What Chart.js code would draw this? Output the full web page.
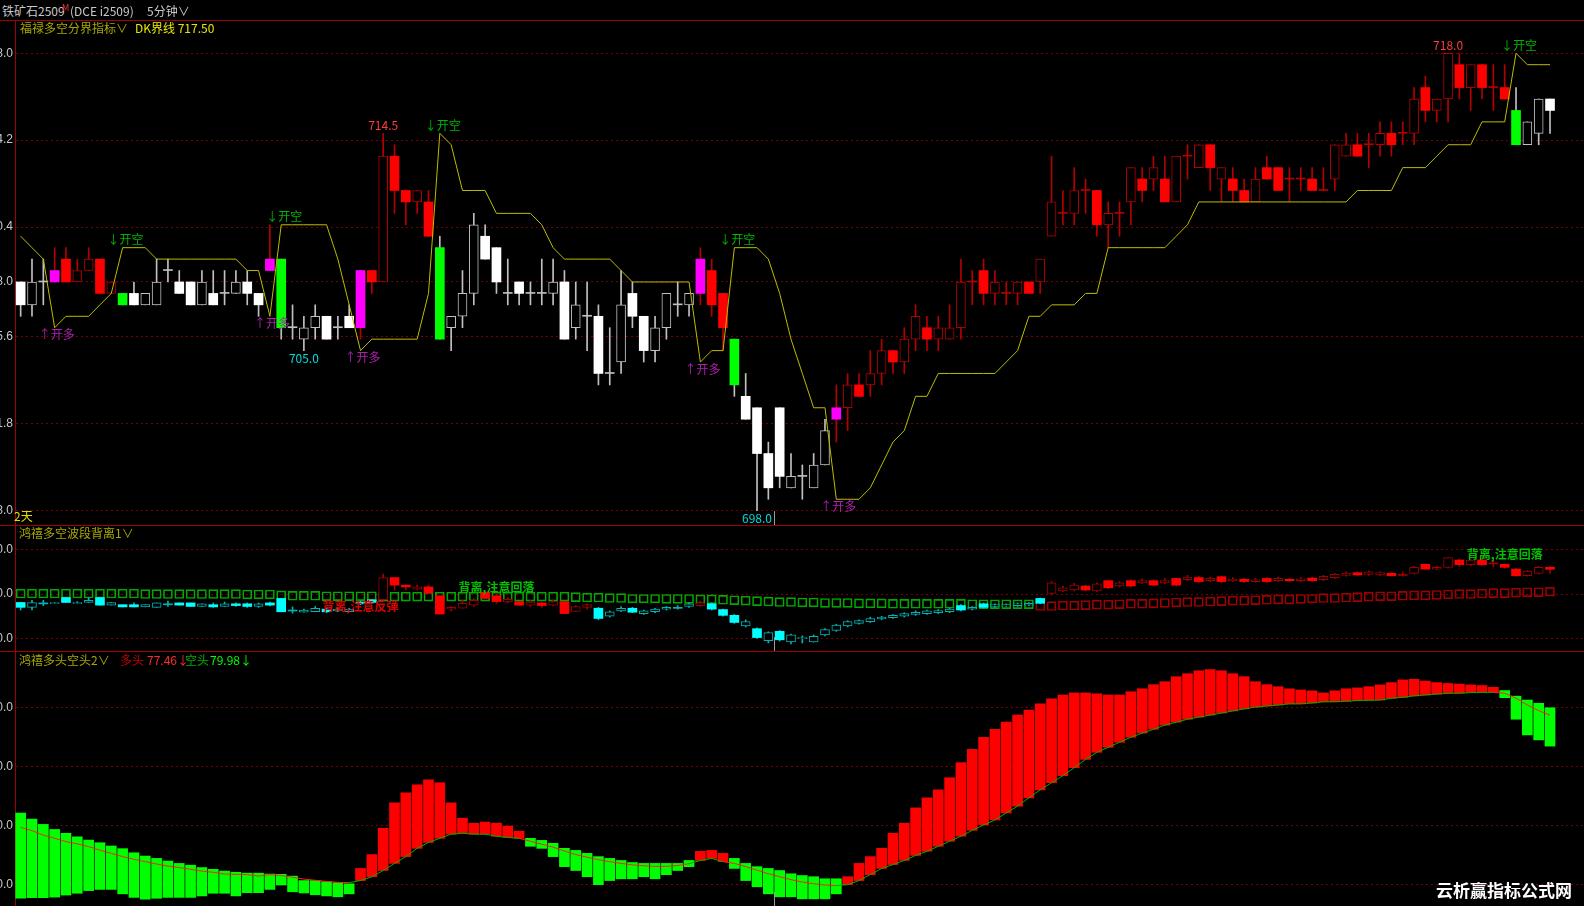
<!DOCTYPE html>
<html lang="zh-CN">
<head>
<meta charset="utf-8">
<title>铁矿石2509 5分钟</title>
<script src="https://cdn.jsdelivr.net/npm/chart.js@4.4.1/dist/chart.umd.min.js"></script>
<style>
	html, body { margin: 0; padding: 0; background: #000; }
	body { width: 1584px; height: 906px; position: relative; overflow: hidden;
		font-family: "Noto Sans CJK SC", "Noto Sans", sans-serif; font-size: 12px; }
	.panel { position: absolute; left: 0; width: 1584px; border-top: 1px solid #a00000; box-sizing: border-box; }
	.panel canvas { display: block; }
	.txt { position: absolute; white-space: nowrap; line-height: 14px; height: 14px; }
</style>
</head>
<body>
<div class="panel" style="top:20px;height:505px"><canvas id="kline" width="1584" height="504"></canvas></div>
<div class="panel" style="top:525px;height:126px"><canvas id="wave" width="1584" height="125"></canvas></div>
<div class="panel" style="top:651px;height:255px"><canvas id="power" width="1584" height="254"></canvas></div>

<!-- header + panel titles -->
<div class="txt" style="left:2px;top:4px;color:#c8c8c8">铁矿石2509</div>
<div class="txt" style="left:62px;top:1px;color:#ff3030;font-size:9px">M</div>
<div class="txt" style="left:70px;top:4px;color:#c8c8c8">(DCE i2509)</div>
<div class="txt" style="left:147px;top:4px;color:#c8c8c8">5分钟∨</div>

<div class="txt" style="left:20px;top:21px;color:#a8a800">福禄多空分界指标∨</div>
<div class="txt" style="left:135px;top:21px;color:#e6e600">DK界线 717.50</div>
<div class="txt" style="left:14px;top:509px;color:#e0e000">2天</div>

<div class="txt" style="left:19px;top:526px;color:#a8a800">鸿禧多空波段背离1∨</div>

<div class="txt" style="left:19px;top:653px;color:#a8a800">鸿禧多头空头2∨</div>
<div class="txt" style="left:120px;top:653px;color:#c00000">多头</div>
<div class="txt" style="left:147px;top:653px;color:#ff2a2a">77.46↓</div>
<div class="txt" style="left:185px;top:653px;color:#00b000">空头</div>
<div class="txt" style="left:210px;top:653px;color:#00ff00">79.98↓</div>

<div class="txt" style="left:1436px;top:880px;color:#ffffff;font-size:17px;font-weight:bold;line-height:19px;height:19px">云析赢指标公式网</div>

<script>
(function () {
	'use strict';

	// ---- main panel: 5-minute candles (136 bars) ----
	const p1Open = [
		708, 707, 708, 708, 709, 708, 708.5, 709, 707.5, 707.5,
		707.5, 707, 707, 708.5, 708, 708, 707, 707.5, 707.5, 707.5,
		708, 707.5, 708.5, 709, 706, 705.5, 706, 706.5, 706, 706.5,
		706, 708.5, 708, 713.5, 712, 711.5, 711.5, 709.5, 706, 706.5,
		707.5, 710, 709.5, 707.5, 708, 707.5, 707.5, 707.5, 708, 706,
		706.5, 706.5, 704, 704.5, 707.5, 706.5, 705, 706, 707, 707,
		707.5, 708.5, 707.5, 705.5, 703, 702.5, 700.5, 702.5, 699, 699.5,
		699, 700, 702, 702.5, 703.5, 703.5, 704, 705, 704.5, 705.5,
		706, 705.5, 705.5, 706, 708, 708.5, 707.5, 707.5, 707.5, 708,
		708, 710, 711, 711, 712, 712, 710.5, 711, 711.5, 712.5,
		712.5, 712.5, 711.5, 713.5, 713, 714, 712.5, 712.5, 712, 711.5,
		713, 713, 712.5, 712.5, 712.5, 712, 712.5, 713.5, 714, 714,
		714, 714.5, 714.5, 714.5, 716.5, 715.5, 716, 717.5, 716.5, 717.5,
		716.5, 716.5, 715.5, 714, 714.5, 716
	];
	const p1High = [
		708, 709, 709, 709.5, 709.5, 709, 709.5, 709, 708, 707.5,
		708, 707.5, 709, 709, 708.5, 708, 708.5, 708.5, 708.5, 708.5,
		708.5, 707.5, 710.5, 709, 707, 706.5, 707, 706.5, 706.5, 707,
		708.5, 708.5, 714.5, 714, 712, 712, 712, 710, 706.5, 708.5,
		711, 710.5, 709.5, 709, 708, 708, 709, 709, 708.5, 708,
		708, 707, 706, 708.5, 708, 706.5, 706.5, 707.5, 708, 707.5,
		709.5, 709, 707.5, 705.5, 704, 702.5, 701, 702.5, 700.5, 700,
		700.5, 702, 703.5, 704, 704, 705, 705.5, 705, 706, 707,
		706.5, 706.5, 707, 709, 708.5, 709, 708.5, 708, 708, 708,
		709, 713.5, 712, 713, 712.5, 712, 711.5, 711.5, 713, 713,
		713.5, 713.5, 713.5, 714, 714, 714, 713, 713, 712.5, 713,
		713.5, 713, 713, 713, 713, 713, 714, 714.5, 714.5, 714.5,
		715, 715, 715, 716.5, 717, 716, 718, 718, 717.5, 717.5,
		717.5, 717.5, 716.5, 715, 716, 716
	];
	const p1Low = [
		706.5, 706.5, 707, 708, 708, 708, 708.5, 707.5, 707.5, 707,
		707, 707, 707, 708, 707.5, 707, 707, 707, 707, 707.5,
		707, 706.5, 708.5, 705.5, 705.5, 705, 705.5, 705.5, 705.5, 706,
		705.5, 707.5, 708, 711, 710.5, 711, 710, 705.5, 705, 706,
		707, 709, 707.5, 707, 707, 707, 707, 707, 705.5, 705.5,
		705, 703.5, 703.5, 704, 706, 704.5, 704.5, 705.5, 706.5, 706.5,
		707, 706.5, 705, 703, 702, 698, 698.5, 699, 699, 698.5,
		699, 700, 701, 701.5, 703, 703, 703.5, 704, 704, 705,
		705, 705, 705.5, 705.5, 707, 707, 707, 707, 707, 707.5,
		707.5, 710, 710.5, 710.5, 711, 710, 709.5, 710, 710.5, 711.5,
		712, 711.5, 711.5, 712.5, 713, 712, 711.5, 711.5, 711.5, 711.5,
		712.5, 712, 711.5, 712, 712, 712, 712, 713.5, 713.5, 713,
		713.5, 713.5, 714, 714, 715, 715, 715, 716, 715.5, 716,
		715.5, 716, 714, 714, 714, 714.5
	];
	const p1Close = [
		707, 708, 708, 708.5, 708, 708.5, 709, 707.5, 708, 707,
		707, 707.5, 708, 708.5, 707.5, 707, 708, 707, 707.5, 708,
		707.5, 707, 709, 706, 706, 706, 706.5, 705.5, 706, 706,
		708.5, 708, 713.5, 712, 711.5, 712, 710, 705.5, 706.5, 707.5,
		710.5, 709, 708, 707.5, 707.5, 707.5, 707.5, 708, 705.5, 707,
		706.5, 704, 704, 707, 706.5, 705, 706, 707.5, 707, 707.5,
		709, 707, 706, 703.5, 702, 700.5, 699, 699.5, 699.5, 699.5,
		700, 701.5, 702.5, 703.5, 703, 704, 705, 704.5, 705.5, 706.5,
		705.5, 706, 706, 708, 708, 707.5, 708, 707.5, 708, 707.5,
		709, 711.5, 711, 712, 712, 710.5, 711, 711, 713, 712,
		713, 711.5, 713.5, 713.5, 714, 713, 713, 712, 711.5, 712.5,
		712.5, 712, 712.5, 712.5, 712, 712, 714, 714, 713.5, 714,
		714.5, 714, 714.5, 716, 715.5, 716, 718, 716.5, 717.5, 716.5,
		716.5, 716, 714, 715, 716, 715.5
	];
	// w = white zone, r = red zone, m = magenta long bar, g = green short bar
	const p1Kind = 'wwwm' + 'rrrrrg' + 'wwwwwwwwwwww' + 'mg' + 'wwwwww' + 'm' + 'rrrrrr' + 'g' +
		'wwwwwwwwwwwwwwwwwwwwww' + 'm' + 'rr' + 'g' + 'wwwwwwww' + 'm' +
		'rrrrrrrrrr' + 'rrrrrrrrrr' + 'rrrrrrrrrr' + 'rrrrrrrrrr' + 'rrrrrrrrrr' + 'rrrrrrrrr' +
		'g' + 'www';
	const dkLine = [
		710, 709.5, 709, 706, 706.5, 706.5, 706.5, 707, 707.5, 709.5,
		709.5, 709.5, 709, 709, 709, 709, 709, 709, 709, 709,
		708.5, 708.5, 706.5, 710.5, 710.5, 710.5, 710.5, 710.5, 709, 707,
		705, 705.5, 705.5, 705.5, 705.5, 705.5, 707.5, 714.5, 714, 712,
		712, 712, 711, 711, 711, 711, 710.5, 709.5, 709, 709,
		709, 709, 709, 708.5, 708, 708, 708, 708, 708, 708,
		704.5, 705, 705, 709.5, 709.5, 709.5, 709, 707.5, 705.5, 704,
		702.5, 702.5, 698.5, 698.5, 698.5, 699, 700, 701, 701.5, 703,
		703, 704, 704, 704, 704, 704, 704, 704.5, 705, 706.5,
		706.5, 707, 707, 707, 707.5, 707.5, 709.5, 709.5, 709.5, 709.5,
		709.5, 709.5, 710, 710.5, 711.5, 711.5, 711.5, 711.5, 711.5, 711.5,
		711.5, 711.5, 711.5, 711.5, 711.5, 711.5, 711.5, 711.5, 712, 712,
		712, 712, 713, 713, 713, 713.5, 714, 714, 714, 715,
		715, 715, 718, 717.5, 717.5, 717.5
	];
	const longSignals = [3, 22, 30, 60, 72];     // ↑开多
	const shortSignals = [9, 23, 37, 63, 132];   // ↓开空
	const highMarks = [32, 126];
	const lowMarks = [25, 65];
	const p1Ticks = [718.0, 714.2, 710.4, 708.0, 705.6, 701.8, 698.0];
	const daySplit = 66.5;

	// ---- panel 2: wave divergence ----
	const p2Box = [
		1, 1, 1, 1, 1, 1, 1, 1, 1, 1,
		1, 0, 0, 0, 0, 0, 0, 0, 0, 0,
		-1, -1, -1, -3, -4, -4, -4, -5, -5, -5,
		-5, -5, -6, -6, -6, -6, -6, -6, -6, -6,
		-6, -6, -6, -6, -6, -6, -6, -6, -6, -7,
		-8, -8, -9, -9, -10, -10, -10, -11, -11, -11,
		-12, -12, -13, -14, -15, -16, -17, -18, -18, -19,
		-19, -20, -20, -20, -21, -21, -21, -22, -22, -22,
		-22, -22, -22, -22, -23, -23, -23, -23, -23, -23,
		-27, -27, -26, -26, -25, -24, -24, -23, -22, -22,
		-21, -20, -19, -18, -18, -17, -16, -15, -15, -14,
		-13, -12, -12, -11, -10, -9, -9, -8, -7, -6,
		-5, -5, -4, -3, -3, -2, -1, 0, 0, 1,
		2, 2, 3, 4, 4, 5
	];
	const p2Open = [
		-19, -30, -20, -22, -8, -22, -19, -8, -25, -24,
		-24, -29, -30, -22, -20, -20, -28, -24, -28, -22,
		-22, -28, -20, -10, -36, -41, -40, -34, -38, -40,
		-18, -13, -13, 37, 20, 11, 16, -4, -34, -32,
		-25, 4, -4, -18, -17, -25, -20, -25, -17, -39,
		-30, -32, -50, -38, -32, -44, -40, -34, -30, -28,
		-26, -22, -35, -48, -72, -78, -105, -84, -108, -100,
		-108, -92, -82, -72, -66, -62, -56, -53, -50, -46,
		-44, -42, -40, -26, -34, -22, -28, -27, -26, -25,
		-10, 0, 7, 9, 18, 7, 30, 18, 30, 25,
		30, 25, 35, 32, 37, 30, 39, 30, 33, 28,
		35, 30, 33, 30, 36, 32, 37, 42, 48, 44,
		43, 46.5, 44, 46.5, 66.75, 56, 60, 76.5, 66, 76.5,
		70, 66.75, 56, 41, 46.5, 60
	];
	const p2Close = [
		-30, -19, -20, -19, -19, -19, -14, -25, -19, -29,
		-29, -24, -20, -22, -25, -28, -22, -29, -22, -26,
		-28, -22, -25, -40, -36, -36, -32, -40, -34, -34,
		-22, -19, 37, 20, 16, 16, 2, -45, -30, -21,
		-14, -10, -17, -12, -25, -18, -26, -17, -44, -28,
		-24, -55, -40, -32, -41, -38, -34, -30, -30, -22,
		-20, -34, -48, -64, -62, -98, -87, -103, -92, -98,
		-95, -80, -70, -62, -60, -55, -52, -48, -44, -41,
		-38, -37, -34, -36, -30, -30, -24, -24, -22, -21,
		-21, 25, 14, 20, 9, 23, 14, 25, 18, 30,
		20, 30, 20, 38, 28, 35, 28, 33, 28, 32,
		28, 35, 30, 34, 30, 40, 44, 47, 43, 50,
		48, 41, 44, 60, 56, 60, 81.75, 66, 76.5, 66,
		70, 60, 41, 51.75, 60, 55.5
	];
	const p2High = [
		-19, -14, -14, -19, -8, -17, -8, -8, -19, -24,
		-20, -24, -20, -16, -20, -20, -22, -20, -18, -20,
		-20, -20, -18, -10, -29, -34, -28, -30, -30, -32,
		-16, -13, 45, 37, 20, 20, 20, -4, -28, -14,
		-10, 4, 2, -8, -17, -14, -18, -14, -17, -26,
		-22, -30, -38, -28, -30, -36, -32, -28, -26, -20,
		-16, -20, -34, -46, -58, -76, -85, -82, -90, -94,
		-92, -78, -68, -60, -58, -52, -50, -46, -42, -38,
		-36, -35, -32, -24, -28, -20, -22, -22, -20, -19,
		-9, 28, 18, 24, 20, 25, 30, 28, 32, 34,
		32, 35, 36, 42, 40, 38, 40, 37, 35, 35,
		37, 38, 36, 37, 38, 42, 46, 50, 50, 52,
		50, 48, 50, 62, 68, 62, 82, 78, 78, 80,
		76, 68, 58, 53, 62, 62
	];
	const p2Low = [
		-36, -36, -26, -22, -19, -22, -19, -25, -25, -29,
		-29, -29, -30, -28, -25, -28, -28, -30, -28, -28,
		-30, -30, -27, -40, -43, -41, -40, -42, -40, -40,
		-24, -20, -13, 9, 9, 9, 2, -45, -38, -32,
		-28, -10, -21, -20, -25, -28, -30, -27, -44, -40,
		-34, -58, -52, -40, -42, -46, -42, -36, -34, -30,
		-28, -36, -50, -66, -74, -100, -110, -106, -112, -110,
		-108, -94, -84, -74, -68, -64, -58, -55, -52, -48,
		-46, -44, -42, -38, -36, -32, -30, -28, -28, -26,
		-22, -2, 5, 7, 7, 5, 12, 16, 16, 23,
		18, 23, 18, 30, 26, 28, 25, 28, 26, 26,
		26, 28, 28, 28, 28, 30, 35, 40, 41, 42,
		41, 40, 40, 45, 55, 55, 58, 62, 64, 64,
		61, 58, 40, 40, 45, 46.5
	];
	// c = cyan (bearish wave), r = red (bullish wave)
	const p2Kind = 'cccccccccc' + 'cccccccccc' + 'cccccccccc' + 'cc' +
		'rrrrrrrrrr' + 'rrrrrrrrr' + 'ccccccccc' + 'r' +
		'cccccccccc' + 'cccccccccc' + 'cccccccccc' +
		'rrrrrrrrrr' + 'rrrrrrrrrr' + 'rrrrrrrrrr' + 'rrrrrrrrrr' + 'rrrrr';
	const boxSplit = 90;      // first bar with red boxes
	const BOX_HALF = 10;
	const p2Notes = [
		[30, -29, '背离,注意反弹', '#e00000'],
		[42, 15.7, '背离,注意回落', '#00c000'],
		[131, 90, '背离,注意回落', '#00c000']
	];
	const p2Ticks = [100, 0, -100];

	// ---- panel 3: bull / bear strength ----
	const p3Hi = [
		44.3, 42.3, 40.5, 38.8, 37.5, 36.3, 35.2, 34.3, 33.2, 32.3,
		30.9, 29.8, 29.0, 28.1, 27.3, 26.7, 25.9, 25.3, 24.7, 24.3,
		24.0, 24.0, 23.7, 23.6, 23.0, 21.5, 21.5, 21.1, 20.8, 20.4,
		25.6, 30.3, 39.2, 47.8, 51.2, 53.9, 55.6, 54.6, 47.8, 42.6,
		40.9, 41.3, 40.9, 39.9, 38.2, 35.8, 35.1, 34.1, 32.4, 31.7,
		30.7, 29.6, 29.0, 28.3, 27.6, 27.3, 27.3, 27.3, 27.3, 28.3,
		31.4, 31.7, 30.7, 29.0, 27.3, 26.2, 25.6, 24.9, 23.8, 23.2,
		22.8, 22.1, 22.1, 22.8, 27.3, 29.6, 32.4, 37.5, 40.9, 46.1,
		49.5, 52.2, 56.3, 61.4, 65.9, 70.0, 72.7, 75.1, 77.5, 79.2,
		81.3, 83.0, 84.3, 85.0, 85.0, 84.7, 84.3, 84.3, 85.4, 86.4,
		87.8, 88.8, 90.5, 91.5, 92.5, 92.9, 92.5, 91.5, 90.5, 88.8,
		87.8, 87.1, 86.4, 86.0, 85.7, 85.0, 85.7, 86.4, 86.7, 87.1,
		87.7, 88.5, 89.4, 89.6, 89.0, 88.5, 88.2, 88.0, 87.7, 87.5,
		86.9, 85.8, 83.9, 82.6, 81.5, 79.98
	];
	const p3Lo = [
		15.5, 15.7, 15.7, 15.9, 16.6, 17.2, 18.1, 18.5, 18.5, 17.0,
		15.8, 15.2, 15.5, 15.8, 15.8, 15.8, 16.3, 17.2, 17.2, 16.3,
		17.4, 17.4, 18.5, 20.0, 17.7, 17.3, 16.7, 16.3, 16.0, 17.0,
		21.5, 22.8, 24.9, 27.3, 29.6, 32.4, 34.4, 35.8, 37.2, 37.5,
		37.2, 37.2, 36.5, 36.1, 35.8, 33.1, 32.4, 29.6, 26.2, 24.9,
		22.8, 20.1, 21.5, 22.1, 22.1, 22.8, 22.1, 23.5, 24.9, 26.2,
		28.3, 29.0, 27.9, 25.6, 21.5, 19.4, 17.0, 16.0, 16.0, 15.3,
		15.3, 15.3, 17.0, 20.1, 21.5, 23.5, 25.6, 26.9, 28.3, 30.0,
		31.4, 33.1, 34.8, 36.5, 38.5, 40.3, 42.0, 44.4, 46.7, 49.5,
		52.2, 54.6, 57.0, 59.7, 62.5, 64.9, 66.6, 68.3, 70.0, 71.4,
		72.7, 74.1, 75.1, 76.1, 76.8, 77.5, 78.2, 78.9, 79.6, 80.2,
		80.6, 80.9, 81.3, 81.3, 81.6, 82.0, 82.0, 82.2, 82.4, 82.5,
		82.6, 83.2, 83.5, 84.0, 84.3, 84.6, 84.9, 84.9, 85.1, 85.2,
		85.2, 83.4, 76.1, 70.8, 69.1, 67.0
	];
	const p3Line = [
		39.5, 38.4, 36.9, 35.8, 34.7, 33.9, 33.0, 31.8, 30.7, 29.6,
		28.7, 27.9, 27.1, 26.4, 25.9, 25.3, 24.7, 24.3, 23.7, 23.6,
		23.5, 23.0, 23.5, 23.2, 22.6, 22.0, 21.6, 21.2, 20.9, 20.8,
		21.5, 22.8, 24.9, 27.3, 29.6, 32.4, 34.4, 35.8, 37.2, 37.5,
		37.2, 37.2, 36.5, 36.1, 35.8, 34.8, 33.8, 32.8, 31.5, 30.3,
		29.4, 28.6, 27.9, 27.3, 26.8, 26.5, 26.3, 26.3, 26.6, 27.2,
		28.3, 29.0, 27.9, 27.3, 26.2, 25.0, 23.8, 22.8, 21.8, 21.0,
		20.4, 20.0, 19.8, 20.1, 21.5, 23.5, 25.6, 26.9, 28.3, 30.0,
		31.4, 33.1, 34.8, 36.5, 38.5, 40.3, 42.0, 44.4, 46.7, 49.5,
		52.2, 54.6, 57.0, 59.7, 62.5, 64.9, 66.6, 68.3, 70.0, 71.4,
		72.7, 74.1, 75.1, 76.1, 76.8, 77.5, 78.2, 78.9, 79.6, 80.2,
		80.6, 80.9, 81.3, 81.3, 81.6, 82.0, 82.0, 82.2, 82.4, 82.5,
		82.6, 83.2, 83.5, 84.0, 84.3, 84.6, 84.9, 84.9, 85.1, 85.2,
		85.2, 84.9, 83.2, 80.9, 79.0, 77.46
	];
	const p3Kind = 'gggggggggg' + 'gggggggggg' + 'gggggggggg' +
		'rrrrrrrrrr' + 'rrrrr' + 'gggggggggg' + 'ggggg' + 'rrr' + 'gggggggggg' +
		'rrrrrrrrrr' + 'rrrrrrrrrr' + 'rrrrrrrrrr' + 'rrrrrrrrrr' + 'rrrrrrrrrr' + 'rrrrrrrr' +
		'ggggg';
	const p3Ticks = [80, 60, 40, 20];

	const FONT = '"Noto Sans CJK SC", "Noto Sans", sans-serif';
	const X_MIN = -0.5, X_MAX = 138;

	function yAxis(min, max, ticks) {
		return {
			position: 'left',
			min: min,
			max: max,
			afterFit: s => {
				// fixed narrow axis; labels may run off the left edge like the original
				s.width = 15;
				s.paddingTop = 0;
				s.paddingBottom = 0;
				s.paddingLeft = 0;
				s.paddingRight = 0;
			},
			afterBuildTicks: s => { s.ticks = ticks.map(v => ({ value: v })); },
			grid: { color: '#7a0000', lineWidth: 1, drawTicks: false },
			border: { display: true, color: '#a00000', width: 1, dash: [2, 3] },
			ticks: {
				autoSkip: false,
				color: '#c8c8c8',
				padding: 2,
				font: { size: 12, family: '"Liberation Sans", sans-serif' },
				callback: v => Number(v).toFixed(1)
			}
		};
	}

	// wick + body bar datasets from OHLC arrays
	function candleSets(open, high, low, close, style, bodyWidth) {
		const wick = [], body = [], wickColor = [], bg = [], bd = [], bw = [];
		for (let i = 0; i < open.length; i++) {
			const s = style(i);
			wick.push({ x: i, y: [low[i], high[i]] });
			body.push({ x: i, y: [Math.min(open[i], close[i]), Math.max(open[i], close[i])] });
			wickColor.push(s.wick);
			if (open[i] === close[i]) {
				bg.push(s.wick); bd.push(s.wick); bw.push(0);
			} else if (close[i] > open[i] && s.hollow) {
				bg.push('#000000'); bd.push(s.line); bw.push(1);
			} else {
				bg.push(s.fill); bd.push(s.fill); bw.push(0);
			}
		}
		return [
			{ type: 'bar', data: wick, backgroundColor: wickColor, barThickness: 1, grouped: false, minBarLength: 1, order: 5 },
			{ type: 'bar', data: body, backgroundColor: bg, borderColor: bd, borderWidth: bw, borderSkipped: false,
				barThickness: bodyWidth, grouped: false, minBarLength: 1, order: 4 }
		];
	}

	const daySplitPlugin = {
		id: 'daySplit',
		afterDatasetsDraw(chart) {
			const { ctx, chartArea, scales: { x } } = chart;
			const px = Math.round(x.getPixelForValue(daySplit)) + 0.5;
			ctx.save();
			ctx.strokeStyle = '#9a9a9a';
			ctx.lineWidth = 1;
			ctx.beginPath();
			ctx.moveTo(px, chartArea.bottom - 14);
			ctx.lineTo(px, chartArea.bottom);
			ctx.stroke();
			ctx.restore();
		}
	};

	function createChart(id, datasets, yMin, yMax, ticks, plugins) {
		const canvas = document.getElementById(id);
		return new Chart(canvas, {
			type: 'bar',
			data: { datasets: datasets },
			options: {
				responsive: false,
				animation: false,
				events: [],
				layout: { padding: 0 },
				plugins: { legend: { display: false }, tooltip: { enabled: false } },
				scales: {
					x: { type: 'linear', display: false, offset: false, min: X_MIN, max: X_MAX },
					y: yAxis(yMin, yMax, ticks)
				}
			},
			plugins: [daySplitPlugin].concat(plugins || [])
		});
	}

	// ---------- panel 1 ----------
	const p1Style = i => {
		const k = p1Kind[i];
		if (k === 'r') return { fill: '#ff0000', line: '#b40000', wick: '#b40000', hollow: true };
		if (k === 'w') return { fill: '#ffffff', line: '#c0c0c0', wick: '#c0c0c0', hollow: true };
		if (k === 'm') return { fill: '#ff00ff', line: '#ff00ff', wick: '#b40000', hollow: false };
		return { fill: '#00ff00', line: '#00ff00', wick: '#c0c0c0', hollow: false };
	};

	const signalPlugin = {
		id: 'signals',
		afterDatasetsDraw(chart) {
			const { ctx, chartArea, scales: { x, y } } = chart;
			ctx.save();
			ctx.font = '12px ' + FONT;
			ctx.textBaseline = 'middle';
			ctx.textAlign = 'left';
			ctx.fillStyle = '#00b400';
			shortSignals.forEach(i => {
				ctx.fillText('↓开空', x.getPixelForValue(i) - 15, y.getPixelForValue(dkLine[i]) - 8);
			});
			ctx.fillStyle = '#b020b0';
			longSignals.forEach(i => {
				const py = Math.min(y.getPixelForValue(dkLine[i]) + 7, chartArea.bottom - 8);
				ctx.fillText('↑开多', x.getPixelForValue(i) - 16, py);
			});
			ctx.textAlign = 'center';
			ctx.fillStyle = '#ff3c3c';
			highMarks.forEach(i => {
				ctx.fillText(p1High[i].toFixed(1), x.getPixelForValue(i), y.getPixelForValue(p1High[i]) - 8);
			});
			ctx.fillStyle = '#00dcdc';
			lowMarks.forEach(i => {
				ctx.fillText(p1Low[i].toFixed(1), x.getPixelForValue(i), y.getPixelForValue(p1Low[i]) + 8);
			});
			ctx.restore();
		}
	};

	createChart('kline',
		candleSets(p1Open, p1High, p1Low, p1Close, p1Style, 9).concat([{
			type: 'line',
			data: dkLine.map((v, i) => ({ x: i, y: v })),
			borderColor: '#bcbc00',
			borderWidth: 1,
			pointRadius: 0,
			tension: 0,
			order: 1
		}]),
		697.375, 719.41, p1Ticks, [signalPlugin]);

	// ---------- panel 2 ----------
	const p2Style = i => p2Kind[i] === 'c'
		? { fill: '#00ffff', line: '#00b4b4', wick: '#00b4b4', hollow: true }
		: { fill: '#ff0000', line: '#a00000', wick: '#a00000', hollow: true };

	const notePlugin = {
		id: 'notes',
		afterDatasetsDraw(chart) {
			const { ctx, scales: { x, y } } = chart;
			ctx.save();
			ctx.font = 'bold 12px ' + FONT;
			ctx.textAlign = 'center';
			ctx.textBaseline = 'middle';
			p2Notes.forEach(([i, v, text, color]) => {
				ctx.fillStyle = color;
				ctx.fillText(text, x.getPixelForValue(i), y.getPixelForValue(v));
			});
			ctx.restore();
		}
	};

	createChart('wave',
		[{
			type: 'bar',
			data: p2Box.map((v, i) => ({ x: i, y: [v - BOX_HALF, v + BOX_HALF] })),
			backgroundColor: 'rgba(0,0,0,0)',
			borderColor: p2Box.map((v, i) => i < boxSplit ? '#00a800' : '#a00000'),
			borderWidth: 1,
			borderSkipped: false,
			barThickness: 9,
			grouped: false,
			order: 6
		}].concat(candleSets(p2Open, p2High, p2Low, p2Close, p2Style, 9)),
		-128.2, 153, p2Ticks, [notePlugin]);

	// ---------- panel 3 ----------
	createChart('power',
		[{
			type: 'bar',
			data: p3Lo.map((v, i) => ({ x: i, y: [v, p3Hi[i]] })),
			backgroundColor: p3Hi.map((v, i) => p3Kind[i] === 'r' ? '#ff0000' : '#00ff00'),
			borderWidth: 0,
			barThickness: 10,
			grouped: false,
			order: 3
		}, {
			type: 'line',
			data: p3Line.map((v, i) => ({ x: i, y: v })),
			borderWidth: 1,
			pointRadius: 0,
			tension: 0,
			segment: { borderColor: c => p3Kind[c.p1DataIndex] === 'g' ? '#ff2020' : '#00b000' },
			borderColor: '#00b000',
			order: 1
		}],
		12.89, 98.85, p3Ticks, []);
})();
</script>
</body>
</html>
